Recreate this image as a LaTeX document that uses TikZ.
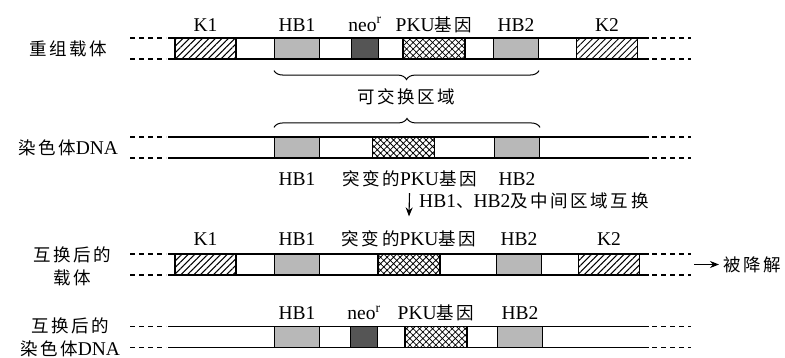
\documentclass[tikz,border=0pt]{standalone}
\usepackage{fontspec}
\setmainfont{Liberation Serif}
\newfontfamily\zhfont[LetterSpace=15]{Noto Sans CJK SC}
\newcommand{\cn}[1]{{\zhfont\fontsize{17.5}{23}\selectfont #1}}
\usetikzlibrary{arrows.meta, positioning, patterns.meta, decorations.pathreplacing}
\usepackage{xcolor}
\definecolor{hbgray}{HTML}{B8B8B8}
\definecolor{neogray}{HTML}{555555}

\begin{document}
\begin{tikzpicture}[
    x=1pt, y=-1pt,
    seg/.style={draw, line width=1.1pt, minimum height=21pt, inner sep=0pt},
    kbox/.style={seg, minimum width=61pt, pattern={Lines[angle=45, distance=4.6pt, line width=1pt]}},
    hbbox/.style={seg, minimum width=45pt, fill=hbgray},
    neobox/.style={seg, minimum width=27pt, fill=neogray},
    pkubox/.style={seg, minimum width=62pt, pattern={Hatch[angle=45, distance=4.6pt, line width=0.8pt]}},
    lbl/.style={font=\fontsize{19.5}{23}\selectfont, inner sep=0pt},
    side/.style={lbl, align=center},
    strand/.style={line width=1.1pt},
    dots/.style={line width=1.1pt, dash pattern=on 5pt off 4pt},
    arr/.style={-{Stealth[length=9pt, width=7pt]}, line width=1.1pt},
    brc/.style={decorate, decoration={brace, amplitude=9pt}, line width=1pt},
]
\useasboundingbox (0,0) rectangle (785,358);

% strands
\foreach \y in {48.5, 147.5, 264.5, 337} {
    \draw[strand] (168,\y-10.5) -- (649,\y-10.5) (168,\y+10.5) -- (649,\y+10.5);
    \draw[dots] (130,\y-10.5) -- (166,\y-10.5) (130,\y+10.5) -- (166,\y+10.5);
    \draw[dots] (652,\y-10.5) -- (691,\y-10.5) (652,\y+10.5) -- (691,\y+10.5);
}

% row 1: recombinant vector
\node[kbox] (k1a) at (205.5,48.5) {};
\node[hbbox] (hb1a) at (297,48.5) {};
\node[neobox] (neoa) at (365,48.5) {};
\node[pkubox] (pkua) at (434,48.5) {};
\node[hbbox] (hb2a) at (516,48.5) {};
\node[kbox] (k2a) at (607,48.5) {};
\node[lbl, above=6pt of k1a.north, anchor=base] (k1atxt) {K1};
\node[lbl, above=6pt of hb1a.north, anchor=base] (hb1atxt) {HB1};
\node[lbl, above=6pt of neoa.north, anchor=base] (neoatxt) {neo\textsuperscript{r}};
\node[lbl, above=6pt of pkua.north, anchor=base] (pkuatxt) {PKU\cn{基因}};
\node[lbl, above=6pt of hb2a.north, anchor=base] (hb2atxt) {HB2};
\node[lbl, above=6pt of k2a.north, anchor=base] (k2atxt) {K2};

% row 2: chromosome DNA
\node[hbbox] (hb1b) at (297,147.5) {};
\node[pkubox] (pkub) at (403.5,147.5) {};
\node[hbbox] (hb2b) at (517,147.5) {};
\node[lbl, below=27pt of hb1b.south, anchor=base] (hb1btxt) {HB1};
\node[lbl, below=27pt of pkub.south, anchor=base, xshift=6pt] (mutb) {\cn{突变的}PKU\cn{基因}};
\node[lbl, below=27pt of hb2b.south, anchor=base] (hb2btxt) {HB2};

% row 3: vector after exchange
\node[kbox] (k1c) at (205.5,264.5) {};
\node[hbbox] (hb1c) at (297,264.5) {};
\node[pkubox] (pkuc) at (409,264.5) {};
\node[hbbox] (hb2c) at (519,264.5) {};
\node[kbox] (k2c) at (609,264.5) {};
\node[lbl, above=8pt of k1c.north, anchor=base] (k1ctxt) {K1};
\node[lbl, above=8pt of hb1c.north, anchor=base] (hb1ctxt) {HB1};
\node[lbl, above=8pt of pkuc.north, anchor=base] (mutc) {\cn{突变的}PKU\cn{基因}};
\node[lbl, above=8pt of hb2c.north, anchor=base] (hb2ctxt) {HB2};
\node[lbl, above=8pt of k2c.north, anchor=base] (k2ctxt) {K2};

% row 4: chromosome DNA after exchange
\node[hbbox] (hb1d) at (297,337) {};
\node[neobox] (neod) at (364,337) {};
\node[pkubox] (pkud) at (436,337) {};
\node[hbbox] (hb2d) at (520,337) {};
\node[lbl, above=6pt of hb1d.north, anchor=base] (hb1dtxt) {HB1};
\node[lbl, above=6pt of neod.north, anchor=base] (neodtxt) {neo\textsuperscript{r}};
\node[lbl, above=6pt of pkud.north, anchor=base] (pkudtxt) {PKU\cn{基因}};
\node[lbl, above=6pt of hb2d.north, anchor=base] (hb2dtxt) {HB2};

% row names
\node[side] (vec) at (68,48.5) {\cn{重组载体}};
\node[side] (chr) at (68,147.5) {\cn{染色体}DNA};
\node[side] (vecx) at (72,266) {\cn{互换后的}\\\cn{载体}};
\node[side] (chrx) at (70,337) {\cn{互换后的}\\\cn{染色体}DNA};

% exchangeable region
\draw[brc] ([yshift=-11pt]hb2a.south east) -- ([yshift=-11pt]hb1a.south west);
\node[lbl] (swaparea) at (406,97) {\cn{可交换区域}};
\draw[brc] ([yshift=9pt]hb1b.north west) -- ([yshift=9pt]hb2b.north east);

% exchange step
\draw[arr] ([yshift=-6pt]mutb.south) -- ([yshift=14pt]mutc.north);
\node[lbl, anchor=base west] (swaptxt) at (419,208) {HB1\cn{、}HB2\cn{及中间区域互换}};

% degraded
\coordinate (c3end) at (694,264.5);
\node[lbl, anchor=west] (degtxt) at (723,264.5) {\cn{被降解}};
\draw[arr, shorten >=4pt] (c3end) -- (degtxt);

\end{tikzpicture}
\end{document}
